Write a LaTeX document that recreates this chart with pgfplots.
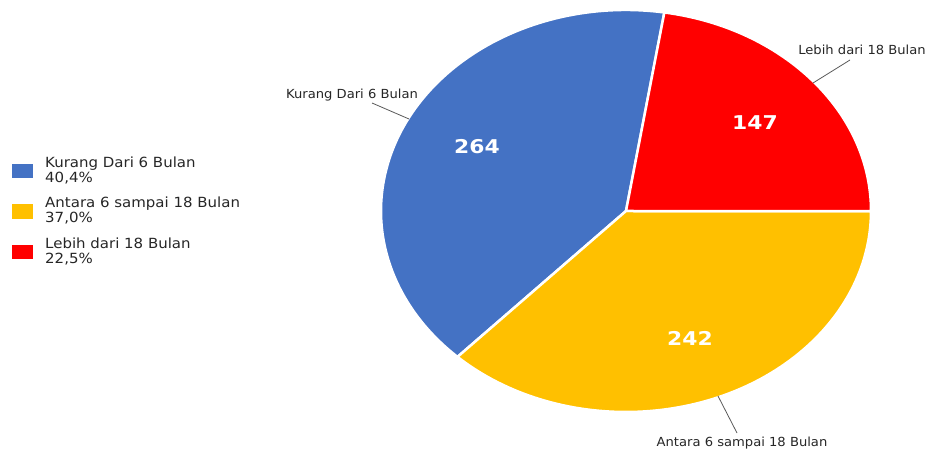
\documentclass[border=0pt]{standalone}
\usepackage{pgfplots}
\pgfplotsset{compat=1.18}
\usepackage{pgfplotstable}
\usepackage{fontspec}
\setmainfont{DejaVu Sans}
\definecolor{cblue}{HTML}{4472C4}
\definecolor{cyellow}{HTML}{FFC000}
\definecolor{cred}{HTML}{FF0000}
\pgfplotstableread[col sep=comma]{
label,value
Kurang Dari 6 Bulan,264
Antara 6 sampai 18 Bulan,242
Lebih dari 18 Bulan,147
}\piedata
\begin{document}
\begin{tikzpicture}
\pgfplotstablegetelem{0}{value}\of\piedata \pgfmathsetmacro{\va}{\pgfplotsretval}
\pgfplotstablegetelem{1}{value}\of\piedata \pgfmathsetmacro{\vb}{\pgfplotsretval}
\pgfplotstablegetelem{2}{value}\of\piedata \pgfmathsetmacro{\vc}{\pgfplotsretval}
\pgfmathsetmacro{\tot}{\va+\vb+\vc}
\pgfmathsetmacro{\aa}{81}
\pgfmathsetmacro{\ab}{\aa+360*(\va/\tot)}
\pgfmathsetmacro{\ac}{\ab+360*(\vb/\tot)}
\pgfmathsetmacro{\ad}{\ac+360*(\vc/\tot)}
\begin{axis}[
  scale only axis, width=932pt, height=452pt,
  xmin=0, xmax=932, ymin=0, ymax=452,
  hide axis, clip=false]
% wedges (centre at pixel 626,211 -> y=241)
\fill[cblue, draw=white, line width=2.5pt, line join=round]
  (axis cs:626,241) -- ([shift={(\aa:245pt and 201pt)}]axis cs:626,241)
  arc[start angle=\aa, end angle=\ab, x radius=245pt, y radius=201pt] -- cycle;
\fill[cyellow, draw=white, line width=2.5pt, line join=round]
  (axis cs:626,241) -- ([shift={(\ab:245pt and 201pt)}]axis cs:626,241)
  arc[start angle=\ab, end angle=\ac, x radius=245pt, y radius=201pt] -- cycle;
\fill[cred, draw=white, line width=2.5pt, line join=round]
  (axis cs:626,241) -- ([shift={(\ac:245pt and 201pt)}]axis cs:626,241)
  arc[start angle=\ac, end angle=\ad, x radius=245pt, y radius=201pt] -- cycle;
% values inside
\node[text=white, font=\bfseries\fontsize{19}{22}\selectfont, xscale=1.15] at (axis cs:477,305) {264};
\node[text=white, font=\bfseries\fontsize{19}{22}\selectfont, xscale=1.15] at (axis cs:755,329) {147};
\node[text=white, font=\bfseries\fontsize{19}{22}\selectfont, xscale=1.15] at (axis cs:690,114) {242};
% leader lines and labels
\draw[gray!70!black, line width=0.8pt] (axis cs:372,349) -- (axis cs:409,333);
\draw[gray!70!black, line width=0.8pt] (axis cs:850,392) -- (axis cs:813,369);
\draw[gray!70!black, line width=0.8pt] (axis cs:718,56) -- (axis cs:737,19);
\node[font=\fontsize{12.5}{14}\selectfont, text=black!85, xscale=1.05] at (axis cs:352,357) {Kurang Dari 6 Bulan};
\node[font=\fontsize{12.5}{14}\selectfont, text=black!85, xscale=1.05] at (axis cs:862,402) {Lebih dari 18 Bulan};
\node[font=\fontsize{12.5}{14}\selectfont, text=black!85, xscale=1.05] at (axis cs:742,9) {Antara 6 sampai 18 Bulan};
% legend
\fill[cblue] (axis cs:12,274) rectangle (axis cs:33,288);
\fill[cyellow] (axis cs:12,233) rectangle (axis cs:33,248);
\fill[cred] (axis cs:12,193) rectangle (axis cs:33,207);
\node[anchor=west, align=left, inner sep=0pt, font=\fontsize{14}{15}\selectfont, text=black!85, xscale=1.07] at (axis cs:45,281) {Kurang Dari 6 Bulan\\40,4\%};
\node[anchor=west, align=left, inner sep=0pt, font=\fontsize{14}{15}\selectfont, text=black!85, xscale=1.07] at (axis cs:45,241) {Antara 6 sampai 18 Bulan\\37,0\%};
\node[anchor=west, align=left, inner sep=0pt, font=\fontsize{14}{15}\selectfont, text=black!85, xscale=1.07] at (axis cs:45,201) {Lebih dari 18 Bulan\\22,5\%};
\end{axis}
\pgfresetboundingbox
\path (current axis.south west) rectangle (current axis.north east);
\end{tikzpicture}
\end{document}
